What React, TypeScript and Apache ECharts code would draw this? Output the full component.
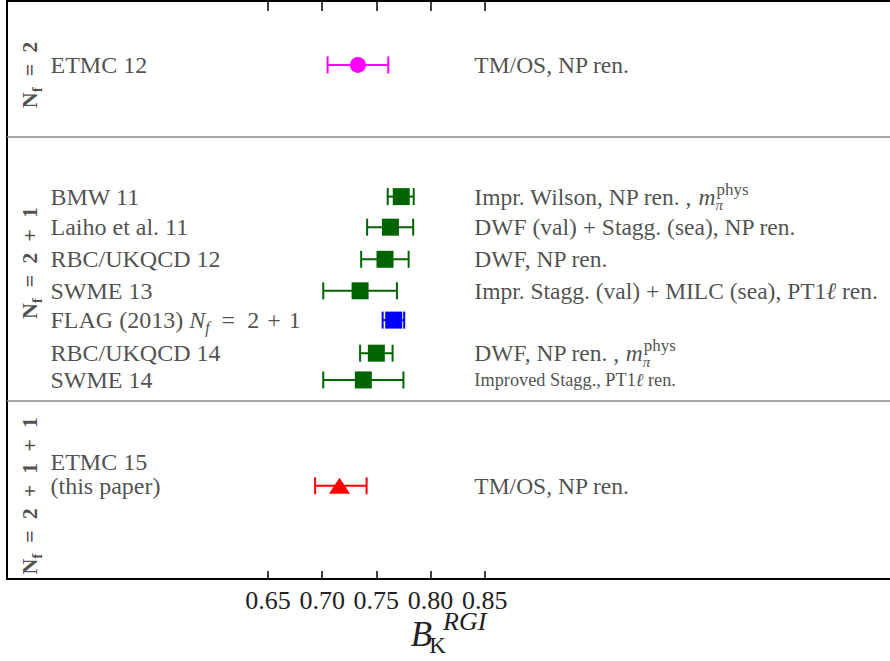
import React, { useEffect, useRef } from "react";
import * as echarts from "echarts";

// ---- data ----
const ES = "\u2002"; // en space
const TS = "\u2004"; // three-per-em space
const studyLabels = [
  "ETMC 12",
  "BMW 11",
  "Laiho et al. 11",
  "RBC/UKQCD 12",
  "SWME 13",
  `FLAG (2013) {it|N}{sub|f}{t|${ES}=${ES}2${TS}+${TS}1}`,
  "RBC/UKQCD 14",
  "SWME 14",
  "ETMC 15\n(this paper)",
];
const bkValues = [0.733, 0.773, 0.763, 0.758, 0.735, 0.766, 0.75, 0.738, 0.716];
const errLow = [0.705, 0.7605, 0.7415, 0.736, 0.701, 0.7558, 0.735, 0.701, 0.6935];
const errHigh = [0.761, 0.7845, 0.784, 0.7798, 0.769, 0.7757, 0.765, 0.775, 0.741];
const rowPos = [2.03, 6.21, 7.18, 8.2, 9.2, 10.13, 11.18, 12.03, 15.39];
const notes = [
  "TM/OS, NP ren.",
  "Impr. Wilson, NP ren. , {it|m}{pi|π}{sup|phys}",
  "DWF (val) + Stagg. (sea), NP ren.",
  "DWF, NP ren.",
  "Impr. Stagg. (val) + MILC (sea), PT1{it|ℓ} ren.",
  "",
  "DWF, NP ren. , {it|m}{pi|π}{sup|phys}",
  "{sm|Improved Stagg., PT1}{smi|ℓ}{sm| ren.}",
  "TM/OS, NP ren.",
];
const markerKind = ["circle", "rect", "rect", "rect", "rect", "rect", "rect", "rect", "triangle"];
const markerColor = [
  "#ff00ff",
  "#006400",
  "#006400",
  "#006400",
  "#006400",
  "#0000ff",
  "#006400",
  "#006400",
  "#ff0000",
];
const groupNames = [
  `{n|N}{s|f}{n|${ES}=${ES}2}`,
  `{n|N}{s|f}{n|${ES}=${ES}2${ES}+${ES}1}`,
  `{n|N}{s|f}{n|${ES}=${ES}2${ES}+${ES}1${ES}+${ES}1}`,
];
const groupPos = [2.35, 8.32, 15.71];
const separatorPos = [4.32, 12.7];
const xTicks = [0.65, 0.7, 0.75, 0.8, 0.85];

// ---- layout (axis extents) ----
const X_MIN = 0.4091;
const X_MAX = 1.2241;
const Y_MAX = 18.349;
const NOTE_X = 0.84;
const FONT = "'Liberation Serif', 'Times New Roman', serif";
const TXT = "#222";

export default function App() {
  const ref = useRef<HTMLDivElement>(null);

  useEffect(() => {
    document.body.style.margin = "0";
    if (!ref.current) return;
    const chart = echarts.init(ref.current, null, { renderer: "svg" });

    const markerData = bkValues.map((v, i) => ({
      value: [v, rowPos[i]],
      symbol: markerKind[i],
      symbolSize: markerKind[i] === "triangle" ? [21, 16] : markerKind[i] === "circle" ? 16 : 17,
      itemStyle: { color: markerColor[i], opacity: 1 },
    }));

    const option: any = {
      animation: false,
      backgroundColor: "#ffffff",
      grid: {
        left: 7,
        right: 0,
        top: 1,
        bottom: 82,
        show: false,
        containLabel: false,
        outerBoundsMode: "none",
      },
      xAxis: [
        {
          type: "value",
          position: "bottom",
          min: X_MIN,
          max: X_MAX,
          axisLine: { show: true, onZero: false, lineStyle: { color: "#000", width: 2 } },
          splitLine: { show: false },
          axisTick: {
            show: true,
            inside: true,
            length: 8,
            customValues: xTicks,
            lineStyle: { color: "#000", width: 1.5 },
          },
          axisLabel: {
            show: true,
            customValues: xTicks,
            formatter: (v: number) => v.toFixed(2),
            fontFamily: FONT,
            fontSize: 26,
            lineHeight: 18,
            color: TXT,
            margin: 12,
          },
          name: "{b|B}{k|K}{s|RGI}",
          nameLocation: "middle",
          nameMoveOverlap: false,
          nameGap: 29,
          nameTextStyle: {
            verticalAlign: "top",
            rich: {
              b: {
                fontFamily: FONT,
                fontStyle: "italic",
                fontSize: 35,
                color: TXT,
                lineHeight: 52,
                verticalAlign: "middle",
              },
              k: {
                fontFamily: FONT,
                fontSize: 23,
                color: TXT,
                width: 11,
                lineHeight: 23,
                padding: [0, 0, 3, 0],
                verticalAlign: "bottom",
              },
              s: {
                fontFamily: FONT,
                fontStyle: "italic",
                fontSize: 26,
                color: TXT,
                lineHeight: 14,
                verticalAlign: "top",
              },
            },
          },
        },
        {
          type: "value",
          position: "top",
          min: X_MIN,
          max: X_MAX,
          axisLine: { show: true, onZero: false, lineStyle: { color: "#000", width: 2 } },
          splitLine: { show: false },
          axisLabel: { show: false },
          axisTick: {
            show: true,
            inside: true,
            length: 10,
            customValues: xTicks,
            lineStyle: { color: "#000", width: 1.5 },
          },
        },
      ],
      yAxis: {
        type: "value",
        position: "left",
        min: 0,
        max: Y_MAX,
        inverse: true,
        axisLine: { show: true, onZero: false, lineStyle: { color: "#000", width: 2 } },
        axisTick: { show: false },
        axisLabel: { show: false },
        splitLine: { show: false },
      },
      series: [
        {
          type: "custom",
          xAxisIndex: 0,
          silent: true,
          clip: false,
          data: errLow.map((l, i) => [l, errHigh[i], rowPos[i]]),
          encode: { x: [0, 1], y: 2 },
          renderItem: (params: any, api: any) => {
            const lo = api.coord([api.value(0), api.value(2)]);
            const hi = api.coord([api.value(1), api.value(2)]);
            const color = markerColor[params.dataIndex];
            const h = 8.5;
            const style = { stroke: color, lineWidth: 2 };
            return {
              type: "group",
              children: [
                { type: "line", shape: { x1: lo[0], y1: lo[1], x2: hi[0], y2: hi[1] }, style },
                { type: "line", shape: { x1: lo[0], y1: lo[1] - h, x2: lo[0], y2: lo[1] + h }, style },
                { type: "line", shape: { x1: hi[0], y1: hi[1] - h, x2: hi[0], y2: hi[1] + h }, style },
              ],
            };
          },
          z: 2,
        },
        {
          type: "scatter",
          silent: true,
          data: markerData,
          z: 3,
        },
        {
          // study names
          type: "scatter",
          silent: true,
          symbolSize: 1,
          itemStyle: { color: "rgba(0,0,0,0)" },
          data: rowPos.map((r, i) =>
            i === 8
              ? { value: [X_MIN, r], label: { offset: [0, -11.5] } }
              : { value: [X_MIN, r] }
          ),
          label: {
            show: true,
            position: "right",
            distance: 43,
            formatter: (p: any) => studyLabels[p.dataIndex],
            fontFamily: FONT,
            fontSize: 24,
            lineHeight: 24,
            color: TXT,
            rich: {
              it: { fontFamily: FONT, fontSize: 24, fontStyle: "italic", color: TXT, lineHeight: 30 },
              sub: {
                fontFamily: FONT,
                fontSize: 16,
                fontStyle: "italic",
                color: TXT,
                verticalAlign: "bottom",
              },
              t: { fontFamily: FONT, fontSize: 24, color: TXT, lineHeight: 30 },
            },
          },
          markLine: {
            silent: true,
            symbol: ["none", "none"],
            label: { show: false },
            lineStyle: { color: "#8c8c8c", width: 1.5, type: "solid" },
            data: separatorPos.map((y) => ({ yAxis: y })),
          },
          z: 4,
        },
        {
          // method notes
          type: "scatter",
          silent: true,
          symbolSize: 1,
          itemStyle: { color: "rgba(0,0,0,0)" },
          data: rowPos.map((r) => [NOTE_X, r]),
          label: {
            show: true,
            position: "right",
            distance: 0,
            formatter: (p: any) => notes[p.dataIndex],
            fontFamily: FONT,
            fontSize: 23.5,
            color: TXT,
            lineHeight: 32,
            rich: {
              it: { fontFamily: FONT, fontSize: 23.5, fontStyle: "italic", color: TXT, lineHeight: 32 },
              pi: {
                fontFamily: FONT,
                fontSize: 15,
                fontStyle: "italic",
                color: TXT,
                width: 1,
                verticalAlign: "bottom",
              },
              sup: {
                fontFamily: FONT,
                fontSize: 17,
                color: TXT,
                verticalAlign: "top",
              },
              sm: { fontFamily: FONT, fontSize: 18.3, color: TXT, lineHeight: 32 },
              smi: { fontFamily: FONT, fontSize: 18.3, fontStyle: "italic", color: TXT, lineHeight: 32 },
            },
          },
          z: 4,
        },
        {
          // group labels
          type: "scatter",
          silent: true,
          symbolSize: 1,
          itemStyle: { color: "rgba(0,0,0,0)" },
          data: groupPos.map((g) => [X_MIN, g]),
          label: {
            show: true,
            position: "inside",
            offset: [0, 22],
            rotate: 90,
            align: "center",
            verticalAlign: "middle",
            formatter: (p: any) => groupNames[p.dataIndex],
            rich: {
              n: {
                fontFamily: FONT,
                fontSize: 22,
                fontWeight: "bold",
                color: TXT,
                lineHeight: 30,
                verticalAlign: "middle",
              },
              s: {
                fontFamily: FONT,
                fontSize: 15,
                fontWeight: "bold",
                color: TXT,
                verticalAlign: "bottom",
              },
            },
          },
          z: 4,
        },
      ],
    };

    chart.setOption(option);
    return () => chart.dispose();
  }, []);

  return <div ref={ref} style={{ width: 890, height: 661 }} />;
}
